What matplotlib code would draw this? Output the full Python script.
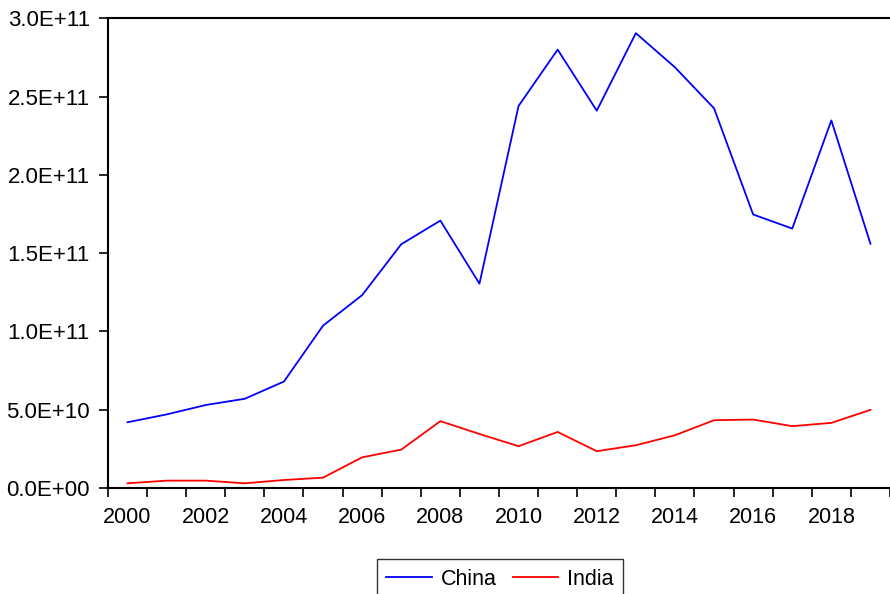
import matplotlib
matplotlib.use("Agg")
import matplotlib.pyplot as plt
from matplotlib.ticker import FixedLocator

years = list(range(2000, 2020))
china = [4.2e10, 4.7e10, 5.3e10, 5.7e10, 6.8e10, 1.037e11, 1.232e11, 1.557e11, 1.708e11, 1.305e11,
         2.44e11, 2.80e11, 2.41e11, 2.905e11, 2.687e11, 2.425e11, 1.747e11, 1.657e11, 2.348e11, 1.56e11]
india = [3.0e9, 4.7e9, 4.7e9, 3.0e9, 5.1e9, 6.6e9, 1.96e10, 2.45e10, 4.27e10, 3.45e10,
         2.67e10, 3.58e10, 2.35e10, 2.73e10, 3.37e10, 4.33e10, 4.37e10, 3.95e10, 4.16e10, 4.99e10]
ytick_labels = ["0.0E+00", "5.0E+10", "1.0E+11", "1.5E+11", "2.0E+11", "2.5E+11", "3.0E+11"]
xtick_labels = [str(y) for y in range(2000, 2020, 2)]

plt.rcParams['font.family'] = ['Liberation Sans', 'DejaVu Sans']

W, H = 890, 594
fig = plt.figure(figsize=(W/100, H/100), dpi=100)
left_px, px_per_year = 108, 39.1
x0, x1 = 1999.5, 2020.0
ax = fig.add_axes([left_px/W, 1-488/H, (x1-x0)*px_per_year/W, (488-18.3)/H])

ax.plot(years, china, color='#0000ff', lw=1.3, label='China')
ax.plot(years, india, color='#ff0000', lw=1.3, label='India')

ax.set_xlim(x0, x1)
ax.set_ylim(0, 3.0e11)

ax.set_yticks([i * 5e10 for i in range(7)])
ax.set_yticklabels(ytick_labels)
ax.xaxis.set_major_locator(FixedLocator([y for y in range(2000, 2020, 2)]))
ax.set_xticklabels(xtick_labels)
ax.xaxis.set_minor_locator(FixedLocator([y - 0.5 for y in range(2000, 2021)]))
ax.tick_params(axis='x', which='major', length=0, pad=14, labelsize=15.5)
ax.tick_params(axis='x', which='minor', length=6.5, width=1.2, color='black', direction='out')
ax.tick_params(axis='y', length=6.5, width=1.2, direction='out', pad=6.5, labelsize=16)

for s in ['left', 'bottom', 'top']:
    ax.spines[s].set_linewidth(1.5)
ax.spines['right'].set_visible(False)

leg = fig.legend(loc='upper center', bbox_to_anchor=(500/W, 1-559/H), ncol=2,
                 frameon=True, fancybox=False, edgecolor='black', fontsize=15.5,
                 handlelength=2.1, handletextpad=0.42, columnspacing=0.75, borderpad=0.45,
                 borderaxespad=0)
leg.get_frame().set_linewidth(1.0)

fig.savefig("out.png", dpi=100)
